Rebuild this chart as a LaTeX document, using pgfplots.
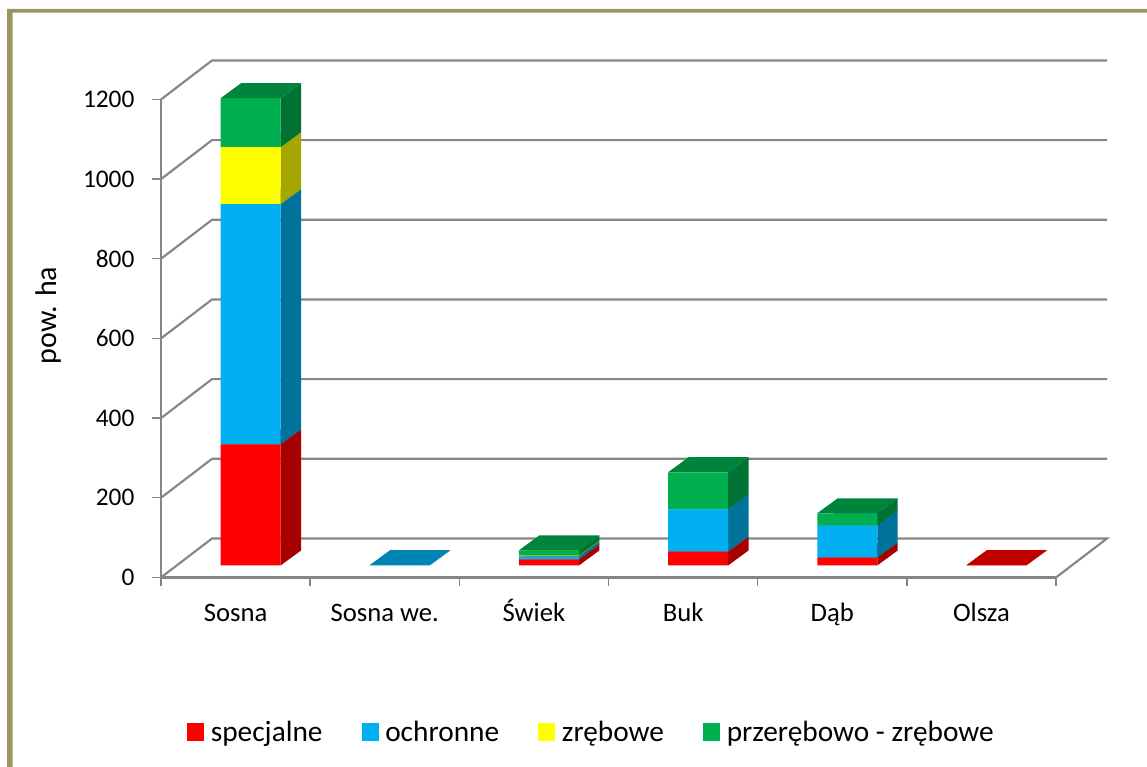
\documentclass[border=0pt]{standalone}
\usepackage{pgfplots}
\usepackage{pgfplotstable}
\usepackage{fontspec}
\setmainfont{Carlito}
\pgfplotsset{compat=1.18}

\definecolor{framecol}{RGB}{155,149,98}
\definecolor{gridcol}{RGB}{134,134,134}
\definecolor{spec}{RGB}{255,0,0}
\definecolor{specside}{RGB}{166,0,0}
\definecolor{spectop}{RGB}{191,0,0}
\definecolor{och}{RGB}{0,176,240}
\definecolor{ochside}{RGB}{0,114,156}
\definecolor{ochtop}{RGB}{0,132,180}
\definecolor{zr}{RGB}{255,255,0}
\definecolor{zrside}{RGB}{166,166,0}
\definecolor{zrtop}{RGB}{191,191,0}
\definecolor{prz}{RGB}{0,176,80}
\definecolor{przside}{RGB}{0,114,52}
\definecolor{prztop}{RGB}{0,132,60}

% values in ha
\pgfplotstableread{
x   spec och zr  prz
0.5 304  603 143 123
1.5 0    1   0   0
2.5 15   8   2   13
3.5 35   106 0   93
4.5 20   80  0   31
5.5 1    0   0   0
}\bars

\pgfplotsset{
  base/.style={
    scale only axis, width=671.25pt, height=358.5pt,
    xmin=0, xmax=6, ymin=0, ymax=1200, clip=false,
  },
  wall/.style={gridcol, line width=1.6pt, forget plot},
}

% side and top of one stacked segment
\newcommand\seg[2]{%
  \pgfplotstablegetelem{#1}{#2}\of\bars
  \let\val\pgfplotsretval
  \ifdim\val pt>0pt
    \pgfmathsetmacro\ytop{\ybase+\val}
    \pgfmathsetmacro\ybd{\ybase+37.7}
    \pgfmathsetmacro\ytd{\ytop+37.7}
    \addplot[fill=#2side, draw=none] coordinates
      {(\xb,\ybase)(\xc,\ybd)(\xc,\ytd)(\xb,\ytop)} -- cycle;
    \addplot[fill=#2top, draw=none] coordinates
      {(\xa,\ytop)(\xb,\ytop)(\xc,\ytd)(\xd,\ytd)} -- cycle;
    \let\ybase\ytop
  \fi
}
\newcommand\stackrow[1]{%
  \pgfplotstablegetelem{#1}{x}\of\bars
  \let\xm\pgfplotsretval
  \pgfmathsetmacro\xa{\xm-0.2011}
  \pgfmathsetmacro\xb{\xm+0.2011}
  \pgfmathsetmacro\xc{\xb+0.1374}
  \pgfmathsetmacro\xd{\xa+0.1374}
  \def\ybase{0}
  \seg{#1}{spec}\seg{#1}{och}\seg{#1}{zr}\seg{#1}{prz}
}

\begin{document}
\begin{tikzpicture}
  \path[use as bounding box] (0,0) rectangle (860.25pt,-575.25pt);
  % frame
  \fill[framecol] (5.25pt,-575.25pt) -- (5.25pt,-6.75pt) -- (860.25pt,-6.75pt)
    -- (860.25pt,-9.4pt) -- (9.4pt,-9.4pt) -- (9.4pt,-575.25pt) -- cycle;

  % front axis, walls and labels
  \begin{axis}[base,
    at={(120.75pt,-433.1pt)},
    axis lines=left, axis line style={-, gridcol, line width=1.6pt},
    tick align=outside,
    major tick length=6.75pt, minor tick length=6.75pt,
    ytick={0,200,...,1200},
    xtick={0.5,1.5,2.5,3.5,4.5,5.5},
    xticklabels={Sosna,Sosna we.,Świek,Buk,Dąb,Olsza},
    minor xtick={0,1,2,3,4,5,6},
    x tick style={draw=none},
    minor x tick style={draw=gridcol, line width=1pt},
    y tick style={draw=gridcol, line width=1pt},
    /pgf/number format/assume math mode=true,
    /pgf/number format/1000 sep={},
    yticklabel style={font=\fontsize{19}{19}\selectfont, inner sep=0pt, xshift=-13pt},
    xticklabel style={font=\fontsize{20}{20}\selectfont, text height=16pt, text depth=4pt, yshift=-6.5pt},
    ylabel={pow. ha},
    ylabel style={font=\fontsize{22.5}{22.5}\selectfont,
      at={(axis description cs:-0.126,0.548)}, anchor=center},
  ]
    \addplot[wall] coordinates {(0,0)(0.342,97.9)(6.342,97.9)(6,0)};
    \addplot[wall] coordinates {(0,200)(0.342,297.9)(6.342,297.9)};
    \addplot[wall] coordinates {(0,400)(0.342,497.9)(6.342,497.9)};
    \addplot[wall] coordinates {(0,600)(0.342,697.9)(6.342,697.9)};
    \addplot[wall] coordinates {(0,800)(0.342,897.9)(6.342,897.9)};
    \addplot[wall] coordinates {(0,1000)(0.342,1097.9)(6.342,1097.9)};
    \addplot[wall] coordinates {(0,1200)(0.342,1297.9)(6.342,1297.9)};
  \end{axis}

  % sides and tops of the columns
  \begin{axis}[base, hide axis, at={(132pt,-424.1pt)}]
    \stackrow{0}\stackrow{1}\stackrow{2}\stackrow{3}\stackrow{4}\stackrow{5}
  \end{axis}

  % front faces and legend
  \begin{axis}[base, hide axis, at={(132pt,-424.1pt)},
    ybar stacked, bar width=45pt,
    legend columns=4,
    legend cell align=left,
    legend style={draw=none, fill=none, inner sep=0pt, anchor=west,
      at={(0.0122,-0.348)}, font=\fontsize{22}{22}\selectfont,
      /tikz/every odd column/.append style={column sep=3pt},
      /tikz/every even column/.append style={column sep=27.3pt}},
    legend image code/.code={\fill[#1] (0pt,-6.6pt) rectangle (12.75pt,6.6pt);},
  ]
    \addplot[fill=spec, draw=none] table[x=x, y=spec] {\bars};
    \addlegendentry{specjalne}
    \addplot[fill=och, draw=none] table[x=x, y=och] {\bars};
    \addlegendentry{ochronne}
    \addplot[fill=zr, draw=none] table[x=x, y=zr] {\bars};
    \addlegendentry{zrębowe}
    \addplot[fill=prz, draw=none] table[x=x, y=prz] {\bars};
    \addlegendentry{przerębowo - zrębowe}
  \end{axis}
\end{tikzpicture}
\end{document}
